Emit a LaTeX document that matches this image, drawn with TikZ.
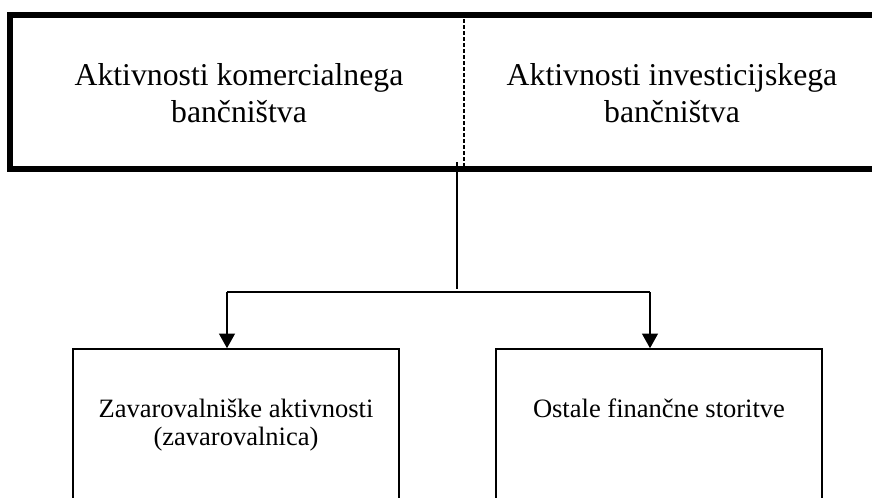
\documentclass[tikz,border=0pt]{standalone}
\usepackage{fontspec}
\setmainfont{Liberation Serif}
\usetikzlibrary{arrows.meta}
\begin{document}
\begin{tikzpicture}[x=0.75pt,y=-0.75pt,
  bigtext/.style={font=\fontsize{23.8}{27.8}\selectfont, inner sep=0pt, anchor=base},
  smalltext/.style={font=\fontsize{19.9}{23.9}\selectfont, inner sep=0pt, anchor=base},
  subbox/.style={draw, line width=1.2pt, minimum width=244.5pt, minimum height=128.25pt, inner sep=0pt},
  link/.style={line width=1pt},
  tip/.style={-{Triangle[width=12pt,length=11pt]}}]
\useasboundingbox (0,0) rectangle (872,497);
\clip (0,0) rectangle (872,497);

% heavy frame of the upper block (open to the right)
\draw[line width=4.5pt, line join=miter] (900,15) -- (10,15) -- (10,169) -- (900,169);
% dashed divider between the two banking activities
\draw[line width=1.1pt, dash pattern=on 3pt off 1.5pt] (464,19) -- (464,166);

\node[bigtext] (kom1) at (239,85) {Aktivnosti komercialnega};
\node[bigtext] (kom2) at (239,122) {bančništva};
\node[bigtext] (inv1) at (672,85) {Aktivnosti investicijskega};
\node[bigtext] (inv2) at (672,122) {bančništva};

% lower blocks (running past the bottom edge)
\node[subbox] (ins) at (236,434.5) {};
\node[subbox] (oth) at (659,434.5) {};
\node[smalltext] (ins1) at (236,417) {Zavarovalniške aktivnosti};
\node[smalltext] (ins2) at (236,445) {(zavarovalnica)};
\node[smalltext] (oth1) at (659,417) {Ostale finančne storitve};

% connectors
\coordinate (stemtop) at (457,162);
\coordinate (stembot) at (457,289);
\coordinate (barL) at (227,292);
\coordinate (barR) at (650,292);
\draw[link] (stemtop) -- (stembot);
\draw[link] (barL) -- (barR);
\draw[link, tip] (barL) -- (barL |- ins.north);
\draw[link, tip] (barR) -- (barR |- oth.north);
\end{tikzpicture}
\end{document}
